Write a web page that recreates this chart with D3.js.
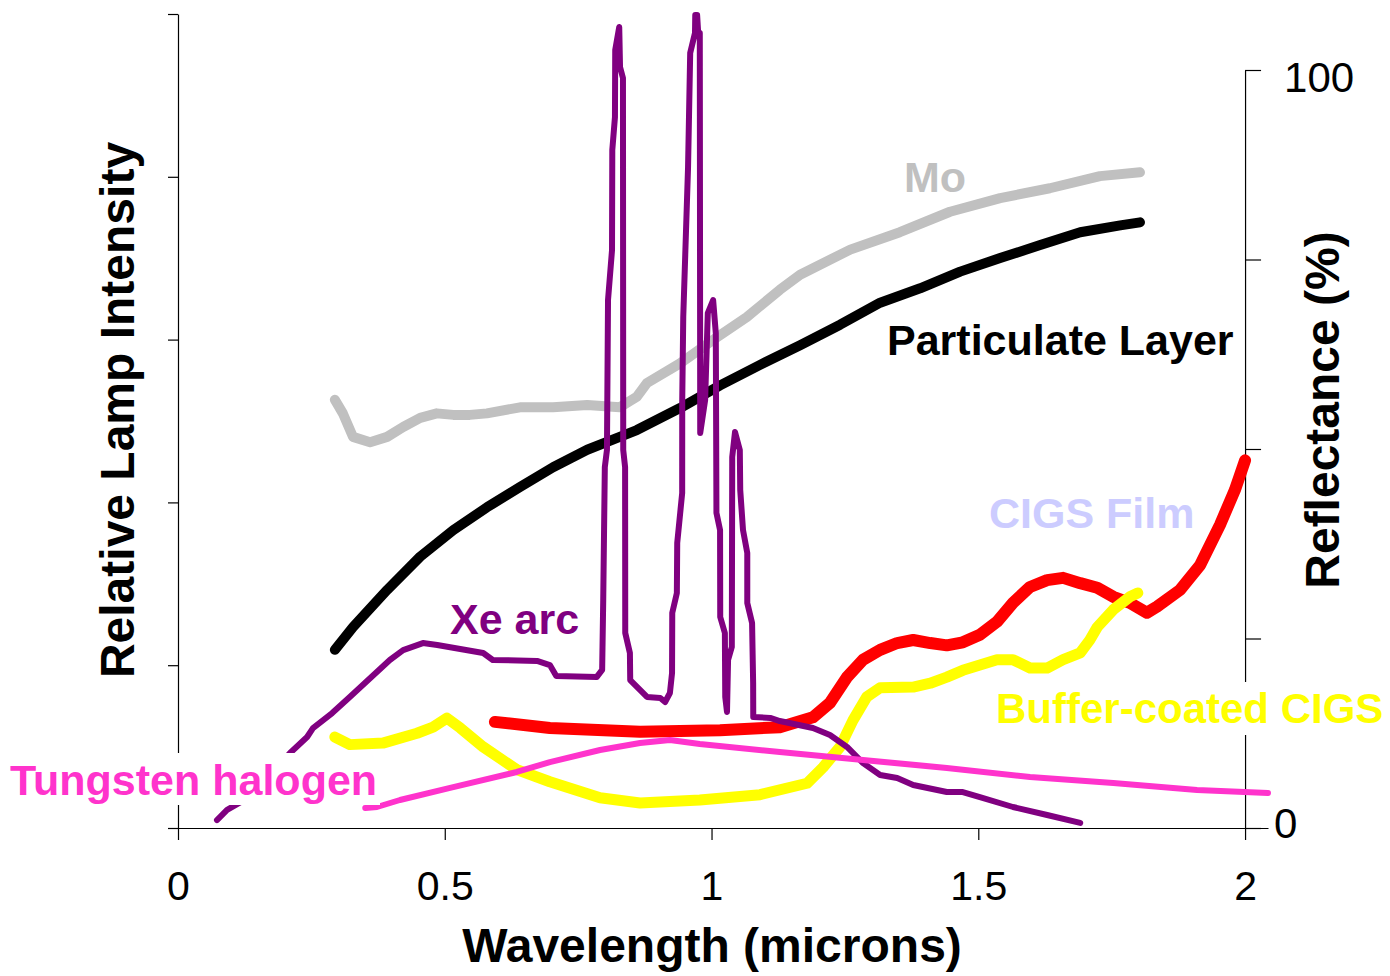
<!DOCTYPE html>
<html>
<head>
<meta charset="utf-8">
<script src="https://cdn.jsdelivr.net/npm/d3@7"></script>
<style>
  body { margin: 0; background: #fff; }
  text { font-family: "Liberation Sans", Arial, sans-serif; }
</style>
</head>
<body>
<script>
// axis ticks
const wavelengthTicks = [0, 0.5, 1, 1.5, 2];
const intensityTicks = [0, 1, 2, 3, 4, 5];
const reflectanceTicks = [0, 25, 50, 75, 100];

// reflectance curves (%), [wavelength in microns, value]
const moData = [[0.294,56.5],[0.309,54.7],[0.328,51.6],[0.360,50.9],[0.392,51.6],[0.422,52.9],[0.454,54.1],[0.485,54.7],[0.516,54.5],[0.547,54.5],[0.579,54.7],[0.641,55.5],[0.703,55.5],[0.767,55.8],[0.828,55.5],[0.860,56.9],[0.879,58.7],[0.941,61.3],[1.003,64.4],[1.066,67.4],[1.128,71.0],[1.166,73.0],[1.260,76.3],[1.353,78.6],[1.447,81.3],[1.541,83.1],[1.634,84.4],[1.728,86.0],[1.803,86.5]];
const particulateData = [[0.294,23.5],[0.328,26.5],[0.392,31.4],[0.454,35.8],[0.516,39.3],[0.579,42.3],[0.641,45.0],[0.703,47.6],[0.767,49.9],[0.828,51.6],[0.860,52.5],[0.941,55.4],[1.016,58.4],[1.091,61.1],[1.166,63.7],[1.241,66.4],[1.316,69.3],[1.391,71.2],[1.466,73.4],[1.541,75.2],[1.616,76.9],[1.691,78.6],[1.766,79.5],[1.803,79.9]];
const cigsFilmData = [[0.594,14.0],[0.697,13.2],[0.866,12.7],[1.016,12.9],[1.128,13.3],[1.190,14.6],[1.222,16.5],[1.254,19.9],[1.284,22.2],[1.316,23.5],[1.348,24.4],[1.378,24.8],[1.410,24.4],[1.441,24.1],[1.471,24.5],[1.503,25.5],[1.535,27.2],[1.565,29.7],[1.597,31.8],[1.629,32.7],[1.659,33.0],[1.691,32.3],[1.723,31.7],[1.753,30.5],[1.784,29.7],[1.816,28.4],[1.835,29.2],[1.878,31.4],[1.916,34.7],[1.953,40.0],[1.981,44.6],[2.0,48.5]];
const bufferData = [[0.294,12.0],[0.322,11.0],[0.384,11.2],[0.448,12.5],[0.478,13.3],[0.504,14.5],[0.529,13.2],[0.572,10.7],[0.635,7.7],[0.697,6.1],[0.791,4.0],[0.866,3.3],[0.978,3.7],[1.091,4.4],[1.179,5.9],[1.209,8.0],[1.241,10.7],[1.265,14.2],[1.291,17.3],[1.316,18.5],[1.378,18.6],[1.410,19.1],[1.441,19.9],[1.471,20.8],[1.503,21.5],[1.535,22.2],[1.565,22.2],[1.597,21.1],[1.629,21.1],[1.659,22.2],[1.691,23.1],[1.709,24.8],[1.723,26.5],[1.753,28.8],[1.784,30.5],[1.799,31.0]];

// lamp intensity curves (relative), [wavelength in microns, value]
const xeArcData = [[0.073,0.049],[0.092,0.111],[0.141,0.203],[0.210,0.461],[0.242,0.559],[0.253,0.614],[0.289,0.706],[0.322,0.805],[0.397,1.032],[0.422,1.093],[0.459,1.136],[0.486,1.124],[0.572,1.075],[0.590,1.032],[0.673,1.026],[0.697,1.001],[0.709,0.934],[0.785,0.928],[0.795,0.971],[0.797,1.400],[0.800,2.217],[0.804,2.322],[0.806,3.243],[0.8135,3.550],[0.814,4.165],[0.819,4.367],[0.8195,4.779],[0.827,4.920],[0.8285,4.674],[0.834,4.607],[0.8345,2.322],[0.838,2.217],[0.8383,1.198],[0.847,1.075],[0.8476,0.909],[0.879,0.805],[0.904,0.799],[0.913,0.774],[0.922,0.829],[0.926,0.952],[0.9264,1.321],[0.935,1.443],[0.9357,1.751],[0.945,2.058],[0.9451,2.629],[0.947,3.139],[0.956,4.060],[0.960,4.760],[0.969,4.883],[0.9695,4.994],[0.973,4.994],[0.975,4.883],[0.978,4.883],[0.9788,2.426],[0.988,2.629],[0.993,3.163],[1.003,3.243],[1.008,3.041],[1.0088,2.322],[1.0092,1.935],[1.016,1.830],[1.0163,1.296],[1.025,1.198],[1.0257,0.805],[1.029,0.713],[1.031,1.032],[1.038,1.112],[1.0388,2.279],[1.044,2.432],[1.053,2.322],[1.0538,2.076],[1.059,1.830],[1.067,1.689],[1.0670,1.382],[1.076,1.259],[1.078,0.891],[1.0782,0.682],[1.110,0.676],[1.128,0.657],[1.190,0.614],[1.222,0.571],[1.254,0.498],[1.284,0.399],[1.316,0.326],[1.348,0.307],[1.378,0.264],[1.441,0.221],[1.471,0.221],[1.503,0.190],[1.565,0.129],[1.629,0.080],[1.691,0.031]];
const tungstenData = [[0.351,0.123],[0.373,0.129],[0.416,0.172],[0.510,0.246],[0.635,0.344],[0.697,0.405],[0.791,0.479],[0.866,0.522],[0.922,0.541],[0.978,0.516],[1.128,0.467],[1.284,0.418],[1.441,0.369],[1.597,0.313],[1.753,0.276],[1.910,0.233],[2.043,0.215]];

const width = 1390, height = 976;
const svg = d3.select("body").append("svg")
    .attr("width", width)
    .attr("height", height);

const x = d3.scaleLinear().domain([0, 2.043]).range([178, 1268]);
const yLamp = d3.scaleLinear().domain([0, 5]).range([828, 14]);
const yRefl = d3.scaleLinear().domain([0, 100]).range([828, 70]);

// axes
svg.append("g")
    .attr("transform", "translate(178,0)")
    .call(d3.axisLeft(yLamp).tickValues(intensityTicks).tickSizeInner(10).tickSizeOuter(0).tickFormat(""));

const bottomAxis = svg.append("g")
    .attr("transform", "translate(0,828)")
    .call(d3.axisBottom(x).tickValues(wavelengthTicks).tickSizeInner(12).tickSizeOuter(0)
        .tickPadding(31).tickFormat(d => String(d)));
bottomAxis.selectAll("text").attr("font-size", 41).attr("fill", "#000")
    .style("font-family", "'Liberation Sans', Arial, sans-serif");

const rightAxis = svg.append("g")
    .attr("transform", `translate(${x(2)},0)`)
    .call(d3.axisRight(yRefl).tickValues(reflectanceTicks).tickSizeInner(16).tickSizeOuter(0)
        .tickFormat(d => (d === 0 || d === 100) ? String(d) : ""));
rightAxis.selectAll("text").attr("font-size", 42).attr("fill", "#000")
    .style("font-family", "'Liberation Sans', Arial, sans-serif")
    .attr("dy", d => d === 100 ? "0.52em" : "0.22em")
    .attr("x", d => d === 100 ? 39 : 29);

svg.selectAll(".domain, .tick line").attr("stroke", "#000").attr("stroke-width", 1.2);

// lines
const reflLine = d3.line().x(d => x(d[0])).y(d => yRefl(d[1]));
const lampLine = d3.line().x(d => x(d[0])).y(d => yLamp(d[1]));

const series = [
    { data: moData, line: reflLine, color: "#C0C0C0", w: 10 },
    { data: particulateData, line: reflLine, color: "#000000", w: 10 },
    { data: cigsFilmData, line: reflLine, color: "#FF0000", w: 12 },
    { data: bufferData, line: reflLine, color: "#FFFF00", w: 11 },
    { data: xeArcData, line: lampLine, color: "#800080", w: 6 },
    { data: tungstenData, line: lampLine, color: "#FF33CC", w: 6 }
];

svg.selectAll("path.series")
    .data(series)
    .enter()
    .append("path")
    .attr("class", "series")
    .attr("d", d => d.line(d.data))
    .attr("fill", "none")
    .attr("stroke", d => d.color)
    .attr("stroke-width", d => d.w)
    .attr("stroke-linejoin", "round")
    .attr("stroke-linecap", "round");

// series labels
const labels = [
    { text: "Mo", x: 904, y: 192, color: "#C0C0C0", size: 43 },
    { text: "Particulate Layer", x: 887, y: 355, color: "#000000", size: 43 },
    { text: "CIGS Film", x: 989, y: 528, color: "#CCCCFF", size: 43 },
    { text: "Xe arc", x: 450, y: 634, color: "#800080", size: 43 },
    { text: "Buffer-coated CIGS", x: 996, y: 723, color: "#FFFF00", size: 42, bg: [993, 682, 397, 53] },
    { text: "Tungsten halogen", x: 10, y: 795, color: "#FF33CC", size: 43, bg: [0, 753, 380, 52] }
];

labels.filter(d => d.bg).forEach(d => {
    svg.append("rect")
        .attr("x", d.bg[0]).attr("y", d.bg[1])
        .attr("width", d.bg[2]).attr("height", d.bg[3])
        .attr("fill", "#fff");
});

svg.selectAll("text.label")
    .data(labels)
    .enter()
    .append("text")
    .attr("class", "label")
    .attr("x", d => d.x)
    .attr("y", d => d.y)
    .attr("font-size", d => d.size)
    .attr("font-weight", "bold")
    .attr("fill", d => d.color)
    .text(d => d.text);

// axis titles
svg.append("text")
    .attr("x", 712).attr("y", 962)
    .attr("text-anchor", "middle")
    .attr("font-size", 48).attr("font-weight", "bold")
    .text("Wavelength (microns)");

svg.append("text")
    .attr("transform", "translate(134,410) rotate(-90)")
    .attr("text-anchor", "middle")
    .attr("font-size", 48).attr("font-weight", "bold")
    .text("Relative Lamp Intensity");

svg.append("text")
    .attr("transform", "translate(1339,410) rotate(-90)")
    .attr("text-anchor", "middle")
    .attr("font-size", 48).attr("font-weight", "bold")
    .text("Reflectance (%)");
</script>
</body>
</html>
